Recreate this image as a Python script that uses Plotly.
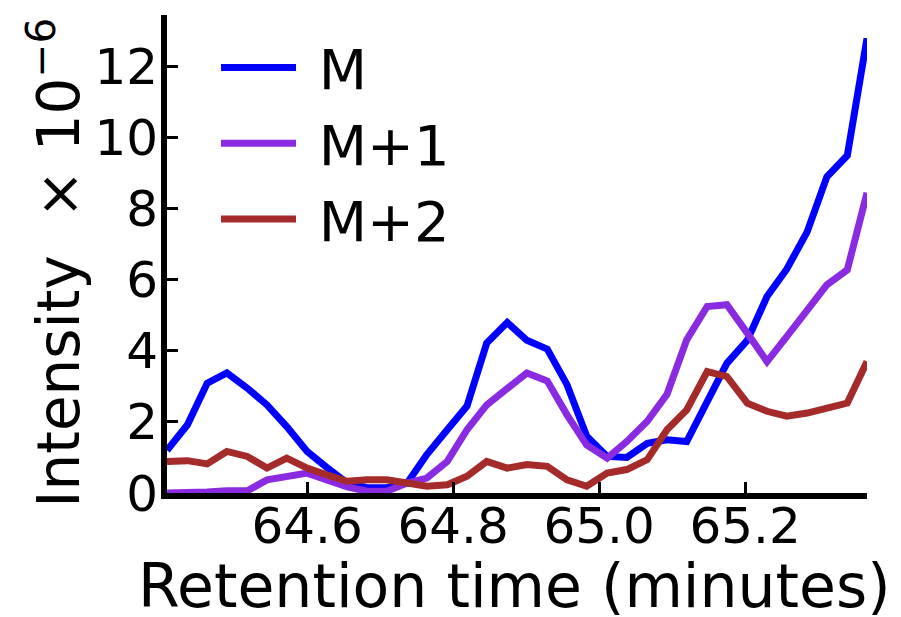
import plotly.graph_objects as go

# Retention time samples (minutes)
time_min = [
    64.408, 64.436, 64.463, 64.490, 64.518, 64.545, 64.572, 64.600, 64.627,
    64.655, 64.682, 64.709, 64.737, 64.764, 64.792, 64.819, 64.846, 64.874,
    64.901, 64.929, 64.956, 64.983, 65.011, 65.038, 65.066, 65.093, 65.120,
    65.148, 65.175, 65.203, 65.230, 65.257, 65.285, 65.312, 65.340, 65.367,
]

# Extracted ion intensities (x 1e-6) for the isotopologues
intensity_m = [
    1.20, 1.92, 3.09, 3.38, 2.95, 2.48, 1.87, 1.17, 0.72,
    0.28, 0.15, 0.15, 0.28, 1.08, 1.78, 2.45, 4.22, 4.80,
    4.30, 4.05, 3.05, 1.60, 1.03, 1.00, 1.40, 1.50, 1.45,
    2.55, 3.65, 4.30, 5.53, 6.30, 7.35, 8.90, 9.50, 12.80,
]
intensity_m1 = [
    0.00, 0.00, 0.03, 0.06, 0.06, 0.37, 0.47, 0.56, 0.37,
    0.17, 0.05, 0.05, 0.28, 0.42, 0.89, 1.78, 2.48, 2.92,
    3.38, 3.15, 2.20, 1.35, 0.98, 1.45, 2.02, 2.78, 4.31,
    5.25, 5.30, 4.50, 3.70, 4.40, 5.16, 5.86, 6.28, 8.45,
]
intensity_m2 = [
    0.89, 0.91, 0.82, 1.17, 1.03, 0.70, 0.98, 0.70, 0.51,
    0.33, 0.37, 0.37, 0.28, 0.19, 0.23, 0.47, 0.89, 0.70,
    0.80, 0.75, 0.37, 0.19, 0.56, 0.66, 0.94, 1.78, 2.34,
    3.42, 3.28, 2.53, 2.30, 2.16, 2.25, 2.39, 2.53, 3.70,
]

series_names = ["M", "M+1", "M+2"]
series_values = [intensity_m, intensity_m1, intensity_m2]
series_colors = ["#0000FF", "#8A2BE2", "#A52A2A"]

x_tick_vals = [64.6, 64.8, 65.0, 65.2]
x_tick_text = ["64.6", "64.8", "65.0", "65.2"]
y_tick_vals = [0, 2, 4, 6, 8, 10, 12]

x_title = "Retention time (minutes)"
y_title = "Intensity\u00a0\u00a0\u00d7 10<sup>\u22126</sup>"

FONT = "DejaVu Sans"
GAP = "\u00a0"  # spacing between legend swatch and its label

fig = go.Figure()
for name, vals, color in zip(series_names, series_values, series_colors):
    fig.add_trace(go.Scatter(
        x=time_min, y=vals, name=GAP + name, mode="lines",
        line=dict(color=color, width=7),
    ))

fig.update_layout(
    width=901, height=617,
    margin=dict(l=167, r=34, t=15, b=124, autoexpand=False),
    paper_bgcolor="white", plot_bgcolor="white",
    font=dict(family=FONT, color="black", size=50),
    showlegend=True,
    legend=dict(
        x=0.070, y=0.98, xanchor="left", yanchor="top",
        font=dict(family=FONT, size=56, color="black"),
        bgcolor="rgba(0,0,0,0)", itemwidth=75, tracegroupgap=0,
    ),
)

# Axis titles placed as paper-anchored text below / left of the plot area
fig.add_annotation(
    text=x_title, xref="paper", yref="paper", x=0.497, y=-0.1955,
    xanchor="center", yanchor="middle", showarrow=False,
    font=dict(family=FONT, size=60, color="black"),
)
fig.add_annotation(
    text=y_title, xref="paper", yref="paper", x=-0.1595, y=0.4825,
    xanchor="center", yanchor="middle", showarrow=False, textangle=-90,
    font=dict(family=FONT, size=58, color="black"),
)

fig.update_xaxes(
    range=[time_min[0], time_min[-1]],
    tickvals=x_tick_vals, ticktext=x_tick_text,
    ticks="inside", ticklen=11, tickwidth=3, tickcolor="black",
    showline=True, linewidth=6, linecolor="black",
    showgrid=False, zeroline=False, automargin=False,
    tickfont=dict(family=FONT, size=50, color="black"),
    ticklabelstandoff=-16,
)
fig.update_yaxes(
    range=[0, 13.455],
    tickvals=y_tick_vals,
    ticks="inside", ticklen=11, tickwidth=3, tickcolor="black",
    showline=True, linewidth=6, linecolor="black",
    showgrid=False, zeroline=False, automargin=False,
    tickfont=dict(family=FONT, size=50, color="black"),
    ticklabelstandoff=-7,
)

fig.write_html("out.html")
